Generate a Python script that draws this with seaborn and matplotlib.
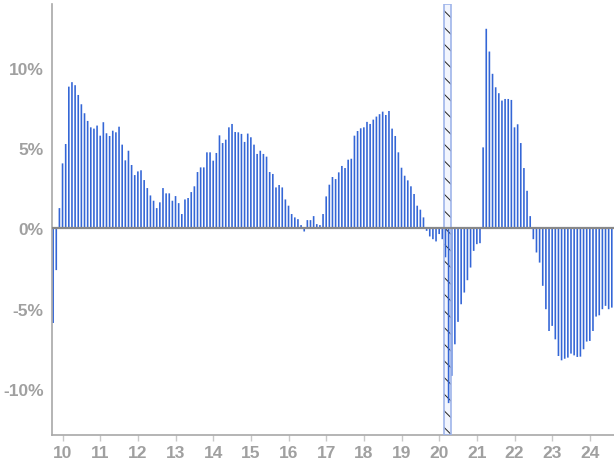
import numpy as np
import pandas as pd
import seaborn as sns
import matplotlib.pyplot as plt
from matplotlib.patches import Rectangle

# monthly year-over-year change (%), Oct 2009 .. Aug 2024
yoy_2009 = [-5.9, -2.6, 1.27]
yoy_2010 = [4.06, 5.27, 8.85, 9.13, 8.94, 8.33, 7.75, 7.19, 6.71, 6.31, 6.23, 6.42]
yoy_2011 = [5.79, 6.63, 5.94, 5.77, 6.10, 6.00, 6.35, 5.23, 4.25, 4.85, 3.96, 3.33]
yoy_2012 = [3.56, 3.63, 3.02, 2.52, 2.06, 1.73, 1.27, 1.63, 2.52, 2.19, 2.19, 1.73]
yoy_2013 = [2.02, 1.58, 0.90, 1.81, 1.90, 2.27, 2.63, 3.52, 3.81, 3.81, 4.75, 4.75]
yoy_2014 = [4.23, 4.71, 5.81, 5.33, 5.54, 6.31, 6.52, 6.02, 6.00, 5.90, 5.40, 5.92]
yoy_2015 = [5.69, 5.23, 4.65, 4.85, 4.65, 4.48, 3.52, 3.40, 2.56, 2.71, 2.56, 1.81]
yoy_2016 = [1.42, 0.90, 0.69, 0.58, 0.21, -0.19, 0.52, 0.52, 0.77, 0.27, 0.21, 0.90]
yoy_2017 = [2.00, 2.73, 3.21, 3.08, 3.50, 3.90, 3.77, 4.29, 4.35, 5.79, 6.08, 6.25]
yoy_2018 = [6.31, 6.65, 6.52, 6.79, 6.98, 7.13, 7.29, 7.08, 7.33, 6.23, 5.77, 4.75]
yoy_2019 = [3.79, 3.29, 3.00, 2.63, 2.15, 1.42, 1.17, 0.69, -0.15, -0.50, -0.67, -0.81]
yoy_2020 = [-0.35, -0.67, -1.8, -10.9, -9.2, -7.23, -5.83, -4.73, -4.00, -3.23, -2.44, -1.40]
yoy_2021 = [-0.98, -0.92, 5.06, 12.46, 11.04, 9.65, 8.81, 8.44, 7.98, 8.08, 8.08, 8.02]
yoy_2022 = [6.31, 6.50, 5.33, 3.77, 2.35, 0.77, -0.67, -1.50, -2.13, -3.58, -5.04, -6.40]
yoy_2023 = [-6.08, -6.92, -7.96, -8.23, -8.13, -8.06, -7.81, -7.92, -8.02, -8.00, -7.54, -7.06]
yoy_2024 = [-7.02, -6.40, -5.50, -5.42, -5.04, -4.83, -5.04, -4.94]

yoy = (yoy_2009 + yoy_2010 + yoy_2011 + yoy_2012 + yoy_2013 + yoy_2014 + yoy_2015
       + yoy_2016 + yoy_2017 + yoy_2018 + yoy_2019 + yoy_2020 + yoy_2021
       + yoy_2022 + yoy_2023 + yoy_2024)
months = pd.date_range('2009-10-01', periods=len(yoy), freq='MS')
df = pd.DataFrame({'month': months.strftime('%Y-%m'), 'yoy': yoy})

year_labels = ['10', '11', '12', '13', '14', '15', '16', '17', '18', '19',
               '20', '21', '22', '23', '24']
y_ticks = [10, 5, 0, -5, -10]
y_labels = ['10%', '5%', '0%', '-5%', '-10%']

sns.set_style('white')
plt.rcParams['font.family'] = ['Liberation Sans', 'DejaVu Sans']
plt.rcParams['hatch.linewidth'] = 0.7

fig, ax = plt.subplots(figsize=(6.14, 4.64), dpi=100)
fig.subplots_adjust(left=0.085, right=1.0, top=0.989, bottom=0.06)

bar_color = '#3466d6'
sns.barplot(data=df, x='month', y='yoy', color=bar_color, saturation=1,
            width=0.52, linewidth=0, ax=ax, zorder=2)
# keep bars antialiased, not snapped to whole pixels
for p in ax.patches:
    p.set_snap(False)

# recession shading (Mar-Apr 2020)
covid_idx = list(df['month']).index('2020-03')
ax.add_patch(Rectangle((covid_idx - 0.6, -12.9), 2.5, 26.9, facecolor='#f2f5fd',
                       edgecolor='#222222', hatch='\\\\', lw=0, zorder=1))
ax.add_patch(Rectangle((covid_idx - 0.6, -12.9), 2.5, 26.9, fill=False,
                       edgecolor='#9fb5ea', lw=1.2, zorder=3))

ax.axhline(0, color='#888888', lw=1.6, zorder=4)

jan_idx = [i for i, m in enumerate(df['month']) if m.endswith('-01')]
ax.set_xticks(jan_idx)
ax.set_xticklabels(year_labels)
ax.set_yticks(y_ticks)
ax.set_yticklabels(y_labels)
ax.set_xlim(-0.3, len(yoy) - 0.3)
ax.set_ylim(-12.9, 14.0)
ax.set_xlabel('')
ax.set_ylabel('')

for lab in ax.get_xticklabels() + ax.get_yticklabels():
    lab.set_fontweight('bold')
    lab.set_fontsize(12.5)
    lab.set_color('#a0a0a0')
ax.tick_params(axis='x', length=4, width=1, color='#c8c8c8', pad=3, bottom=True)
ax.tick_params(axis='y', length=0, pad=6)

sns.despine(ax=ax)
for s in ['left', 'bottom']:
    ax.spines[s].set_color('#a8a8a8')
    ax.spines[s].set_linewidth(1.2)

fig.savefig('out.png', dpi=100)
